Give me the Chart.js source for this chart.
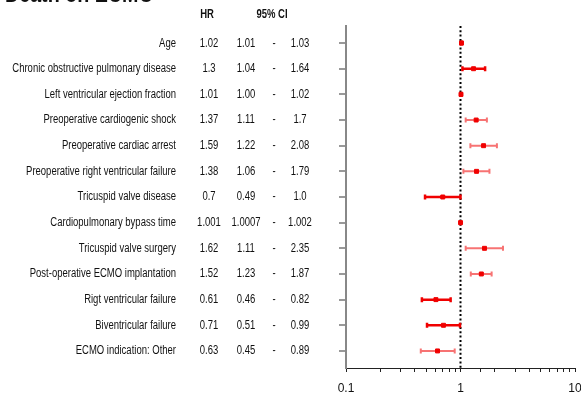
<!DOCTYPE html>
<html>
<head>
<meta charset="utf-8">
<script src="https://cdn.jsdelivr.net/npm/chart.js@4"></script>
<style>
  html, body { margin: 0; padding: 0; background: #fff; }
  #wrap { width: 581px; height: 394px; position: relative; }
</style>
</head>
<body>
<div id="wrap"><canvas id="forestChart"></canvas></div>
<script>
const title = 'Death on ECMO';
const labels = [
    'Age',
    'Chronic obstructive pulmonary disease',
    'Left ventricular ejection fraction',
    'Preoperative cardiogenic shock',
    'Preoperative cardiac arrest',
    'Preoperative right ventricular failure',
    'Tricuspid valve disease',
    'Cardiopulmonary bypass time',
    'Tricuspid valve surgery',
    'Post-operative ECMO implantation',
    'Rigt ventricular failure',
    'Biventricular failure',
    'ECMO indication: Other'
];
const hrText  = ['1.02', '1.3',  '1.01', '1.37', '1.59', '1.38', '0.7',  '1.001',  '1.62', '1.52', '0.61', '0.71', '0.63'];
const lowText = ['1.01', '1.04', '1.00', '1.11', '1.22', '1.06', '0.49', '1.0007', '1.11', '1.23', '0.46', '0.51', '0.45'];
const highText = ['1.03', '1.64', '1.02', '1.7', '2.08', '1.79', '1.0',  '1.002',  '2.35', '1.87', '0.82', '0.99', '0.89'];
const xTickLabels = [0.1, 1, 10];

// which rows get the heavier bar
const strongBar = [true, true, true, false, false, false, true, true, false, false, true, true, false];

const hr = hrText.map(Number);
const low = lowText.map(Number);
const high = highText.map(Number);

const FONT = '"Liberation Sans", Arial, sans-serif';
const SX = 0.76;

function narrowText(ctx, text, x, y, align, font) {
    ctx.save();
    ctx.font = font;
    ctx.textAlign = align;
    ctx.textBaseline = 'middle';
    ctx.fillStyle = '#111';
    ctx.scale(SX, 1);
    ctx.fillText(text, x / SX, y);
    ctx.restore();
}

const forestPlugin = {
    id: 'forest',
    beforeDatasetsDraw(chart) {
        const ctx = chart.ctx;
        const xs = chart.scales.x, ys = chart.scales.y;
        const area = chart.chartArea;

        // reference line at HR = 1
        const x1 = xs.getPixelForValue(1);
        ctx.save();
        ctx.strokeStyle = '#000';
        ctx.lineWidth = 2;
        ctx.setLineDash([2, 2.3]);
        ctx.beginPath();
        ctx.moveTo(x1, area.top);
        ctx.lineTo(x1, area.bottom);
        ctx.stroke();
        ctx.restore();

        // confidence intervals
        for (let i = 0; i < hr.length; i++) {
            const y = ys.getPixelForValue(i);
            const a = xs.getPixelForValue(low[i]);
            const b = xs.getPixelForValue(high[i]);
            ctx.save();
            ctx.strokeStyle = strongBar[i] ? 'rgba(240,0,0,1)' : 'rgba(240,0,0,0.55)';
            ctx.lineWidth = strongBar[i] ? 2.5 : 2;
            ctx.beginPath();
            ctx.moveTo(a, y);
            ctx.lineTo(b, y);
            ctx.moveTo(a, y - 2.5);
            ctx.lineTo(a, y + 2.5);
            ctx.moveTo(b, y - 2.5);
            ctx.lineTo(b, y + 2.5);
            ctx.stroke();
            ctx.restore();
        }
    },
    afterDraw(chart) {
        const ctx = chart.ctx;
        const ys = chart.scales.y;
        const font = '12.5px ' + FONT;
        const bold = 'bold 12.5px ' + FONT;

        ctx.save();
        ctx.font = 'bold 24px ' + FONT;
        ctx.fillStyle = '#111';
        ctx.scale(0.82, 1);
        ctx.textBaseline = 'alphabetic';
        ctx.fillText(title, 5 / 0.82, 2);
        ctx.restore();

        narrowText(ctx, 'HR', 207, 15, 'center', bold);
        narrowText(ctx, '95% CI', 272, 15, 'center', bold);

        for (let i = 0; i < labels.length; i++) {
            const y = ys.getPixelForValue(i);
            narrowText(ctx, labels[i], 176, y, 'right', font);
            narrowText(ctx, hrText[i], 209, y, 'center', font);
            narrowText(ctx, lowText[i], 246, y, 'center', font);
            narrowText(ctx, '-', 274, y, 'center', font);
            narrowText(ctx, highText[i], 300, y, 'center', font);
        }
    }
};

new Chart(document.getElementById('forestChart'), {
    type: 'scatter',
    data: {
        datasets: [{
            data: hr.map((v, i) => ({ x: v, y: i })),
            backgroundColor: '#f00000',
            borderColor: '#f00000',
            pointStyle: 'rect',
            pointRadius: 2.8,
            pointHoverRadius: 2.8
        }]
    },
    options: {
        responsive: true,
        maintainAspectRatio: false,
        animation: false,
        layout: { padding: { left: 339, top: 26, right: 6, bottom: 0 } },
        plugins: {
            legend: { display: false },
            tooltip: { enabled: false }
        },
        scales: {
            x: {
                type: 'logarithmic',
                min: 0.1,
                max: 10,
                afterFit: (scale) => {
                    scale.height = 26;
                    scale.paddingLeft = 0;
                    scale.paddingRight = 0;
                },
                grid: { drawOnChartArea: false, drawTicks: true, tickLength: 4, color: '#222' },
                border: { color: '#222', width: 1 },
                ticks: {
                    autoSkip: false,
                    maxRotation: 0,
                    padding: 9,
                    color: '#111',
                    font: { family: FONT, size: 12 },
                    callback: (v) => xTickLabels.includes(Number(v)) ? String(v) : ''
                }
            },
            y: {
                type: 'linear',
                reverse: true,
                min: -0.665,
                max: labels.length - 1 + 0.665,
                afterBuildTicks: (scale) => {
                    scale.ticks = labels.map((_, i) => ({ value: i }));
                },
                grid: { drawOnChartArea: false, drawTicks: true, tickLength: 7, color: '#999', lineWidth: 2 },
                border: { color: '#888', width: 2 },
                ticks: { display: false }
            }
        }
    },
    plugins: [forestPlugin]
});
</script>
</body>
</html>
